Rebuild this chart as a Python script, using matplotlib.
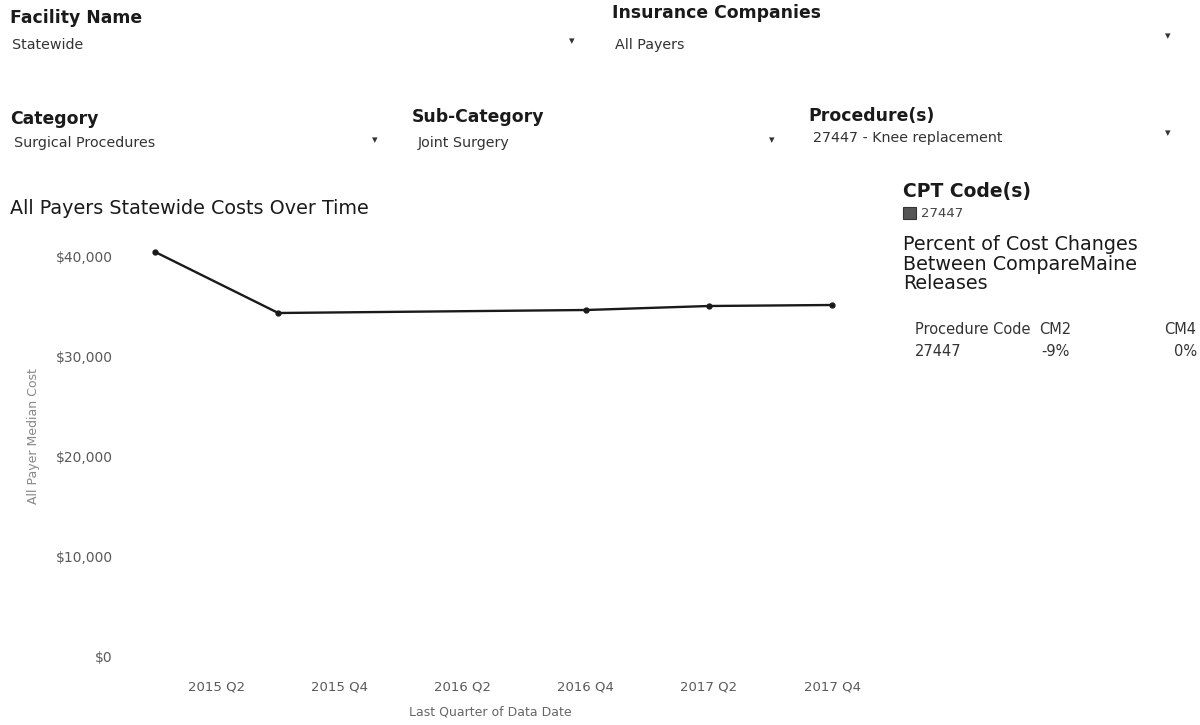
import matplotlib
matplotlib.use("Agg")
import matplotlib.pyplot as plt
from matplotlib.patches import Rectangle
from matplotlib.ticker import FuncFormatter

plt.rcParams['font.family'] = ['DejaVu Sans']

# ---- data ----
quarters = ['2015 Q1', '2015 Q3', '2016 Q4', '2017 Q2', '2017 Q4']
median_cost = [40500, 34400, 34700, 35100, 35200]
tick_labels = ['2015 Q2', '2015 Q4', '2016 Q2', '2016 Q4', '2017 Q2', '2017 Q4']
y_ticks = [0, 10000, 20000, 30000, 40000]
table_cols = ['Procedure Code', 'CM2', 'CM4']
table_row = ['27447', '-9%', '0%']


def q_index(s):
    year, q = s.split()
    return (int(year) - 2015) * 4 + int(q[1]) - 1


W, H = 1200, 725
fig = plt.figure(figsize=(W / 100, H / 100), dpi=100)
fig.patch.set_facecolor('white')


def ftext(x, y, s, **kw):
    kw.setdefault('va', 'center')
    kw.setdefault('ha', 'left')
    return fig.text(x / W, 1 - y / H, s, **kw)


HEAD = dict(fontsize=12.4, color='#1a1a1a', fontweight='bold')
VAL = dict(fontsize=10.3, color='#333333')
ARROW = dict(fontsize=8, color='#333333', ha='center')

# filter headers
ftext(10, 18, 'Facility Name', **HEAD)
ftext(12, 45, 'Statewide', **VAL)
ftext(572, 41, '▾', **ARROW)
ftext(612, 13, 'Insurance Companies', **HEAD)
ftext(615, 45, 'All Payers', **VAL)
ftext(1168, 36, '▾', **ARROW)

ftext(10, 119, 'Category', **HEAD)
ftext(14, 143, 'Surgical Procedures', **VAL)
ftext(375, 140, '▾', **ARROW)
ftext(412, 117, 'Sub-Category', **HEAD)
ftext(418, 143, 'Joint Surgery', **VAL)
ftext(772, 140, '▾', **ARROW)
ftext(808, 116, 'Procedure(s)', **HEAD)
ftext(813, 138, '27447 - Knee replacement', **VAL)
ftext(1168, 133, '▾', **ARROW)

# chart title
ftext(10, 208, 'All Payers Statewide Costs Over Time', fontsize=13.8, color='#1a1a1a')

# right panel
ftext(903, 191, 'CPT Code(s)', fontsize=13.5, color='#1a1a1a', fontweight='bold')
fig.patches.append(Rectangle((903 / W, 1 - 219 / H), 13 / W, 12 / H,
                             transform=fig.transFigure, facecolor='#555555',
                             edgecolor='#333333', lw=0.8))
ftext(921, 213, table_row[0], fontsize=9.5, color='#444444')
ftext(903, 264, 'Percent of Cost Changes\nBetween CompareMaine\nReleases',
      fontsize=13.8, color='#1a1a1a', linespacing=1.05)
ftext(915, 329, table_cols[0], fontsize=10.5, color='#333333')
ftext(1055, 329, table_cols[1], fontsize=10.5, color='#333333', ha='center')
ftext(1180, 329, table_cols[2], fontsize=10.5, color='#333333', ha='center')
ftext(915, 352, table_row[0], fontsize=10.5, color='#333333')
ftext(1070, 352, table_row[1], fontsize=10.5, color='#333333', ha='right')
ftext(1197, 352, table_row[2], fontsize=10.5, color='#333333', ha='right')

# ---- line chart ----
ax_left, ax_right = 130, 880
ax_top, ax_bot = 240, 667
ax = fig.add_axes([ax_left / W, 1 - ax_bot / H, (ax_right - ax_left) / W,
                   (ax_bot - ax_top) / H])
xs = [q_index(q) for q in quarters]
ax.plot(xs, median_cost, color='#1a1a1a', lw=1.7, marker='o', markersize=3.5)
ax.set_xticks([q_index(t) for t in tick_labels])
ax.set_xticklabels(tick_labels)
ax.set_yticks(y_ticks)
ax.yaxis.set_major_formatter(FuncFormatter(lambda v, p: f'${v:,.0f}'))
ax.set_xlim(-0.41, 11.78)
ax.set_ylim(-1000, 41700)
for s in ax.spines.values():
    s.set_visible(False)
ax.tick_params(length=0, labelsize=9.5, labelcolor='#5a5a5a')
ax.tick_params(axis='y', pad=12.5, labelsize=10)
ax.tick_params(axis='x', pad=10)
ax.set_ylabel('All Payer Median Cost', fontsize=9, color='#888888')
ax.set_xlabel('Last Quarter of Data Date', fontsize=9, color='#666666')
ax.yaxis.set_label_coords(-0.12, 0.541)
ax.xaxis.set_label_coords(0.48, -0.09)

fig.savefig('out.png', dpi=100, facecolor='white')
